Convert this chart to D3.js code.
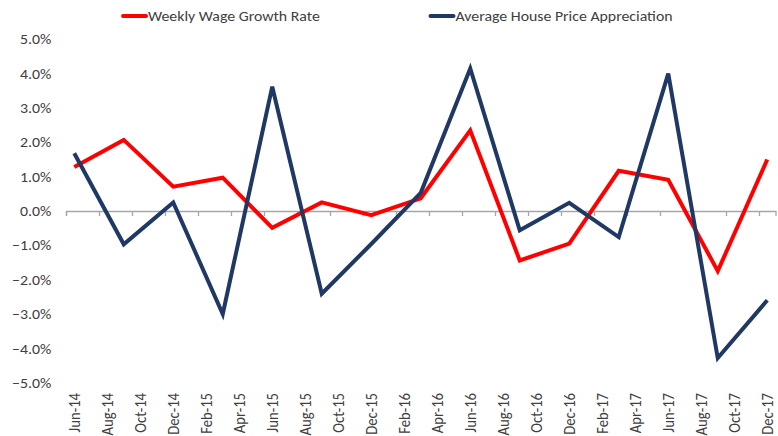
<!DOCTYPE html>
<html>
<head>
<meta charset="utf-8">
<script src="https://cdn.jsdelivr.net/npm/d3@7"></script>
<style>
  body { margin: 0; background: #fff; }
  text { font-family: Carlito, Calibri, "Liberation Sans", sans-serif; fill: #404040; }
</style>
</head>
<body>
<script>
// quarterly observations
var quarters = ["Jun-14", "Sep-14", "Dec-14", "Mar-15", "Jun-15", "Sep-15", "Dec-15", "Mar-16",
                "Jun-16", "Sep-16", "Dec-16", "Mar-17", "Jun-17", "Sep-17", "Dec-17"];
var wageGrowth = [1.28, 2.07, 0.71, 0.97, -0.49, 0.25, -0.12, 0.37, 2.35, -1.44, -0.95, 1.17, 0.91, -1.75, 1.50];
var housePrice = [1.68, -0.97, 0.25, -3.0, 3.62, -2.41, -0.96, 0.53, 4.15, -0.56, 0.24, -0.76, 4.0, -4.28, -2.6];

// axis labels, every second month
var tickLabels = ["Jun-14", "Aug-14", "Oct-14", "Dec-14", "Feb-15", "Apr-15", "Jun-15", "Aug-15",
                  "Oct-15", "Dec-15", "Feb-16", "Apr-16", "Jun-16", "Aug-16", "Oct-16", "Dec-16",
                  "Feb-17", "Apr-17", "Jun-17", "Aug-17", "Oct-17", "Dec-17"];
var yTicks = [5, 4, 3, 2, 1, 0, -1, -2, -3, -4, -5];

var seriesNames = ["Weekly Wage Growth Rate", "Average House Price Appreciation"];
var colors = ["#ff0000", "#1f3864"];

var width = 778, height = 436;
var fontSize = "14.67px";
var stretch = "scale(1.08,1)"; // the source image is a bit wider than tall
var parse = d3.timeParse("%b-%y");
var start = parse("Jun-14");
var monthIdx = function (s) { return d3.timeMonth.count(start, parse(s)); };

var x = d3.scaleLinear().domain([0, 43]).range([66, 775.5]);
var y = d3.scaleLinear().domain([-5, 5]).range([382.7, 39.3]);

var svg = d3.select("body").append("svg")
  .attr("width", width)
  .attr("height", height);

// y labels
svg.append("g").selectAll("text")
  .data(yTicks)
  .enter().append("text")
  .attr("transform", function (d) { return "translate(51.3," + y(d) + ") " + stretch; })
  .attr("dy", "0.35em")
  .attr("text-anchor", "end")
  .style("font-size", fontSize)
  .text(function (d) { return d3.format(".1f")(d) + "%"; });

// zero line with tick marks every 2 months
var tickMonths = tickLabels.map(monthIdx);
var xAxis = d3.axisBottom(x)
  .tickValues(tickMonths)
  .tickSize(5)
  .tickFormat("");
var axisG = svg.append("g")
  .attr("transform", "translate(0," + y(0) + ")")
  .call(xAxis);
axisG.select(".domain").attr("stroke", "#a6a6a6").attr("stroke-width", 1.3);
axisG.selectAll(".tick line").attr("stroke", "#a6a6a6").attr("stroke-width", 1.3);

// x labels at the bottom, rotated
svg.append("g").selectAll("text")
  .data(tickLabels)
  .enter().append("text")
  .attr("transform", function (d) {
    return "translate(" + x(monthIdx(d) + 0.5) + ",393) " + stretch + " rotate(-90)";
  })
  .attr("dy", "0.35em")
  .attr("text-anchor", "end")
  .style("font-size", fontSize)
  .text(function (d) { return d; });

// lines
var line = d3.line()
  .x(function (d, i) { return x(monthIdx(quarters[i]) + 0.5); })
  .y(function (d) { return y(d); });

[wageGrowth, housePrice].forEach(function (vals, k) {
  svg.append("path")
    .datum(vals)
    .attr("d", line)
    .attr("fill", "none")
    .attr("stroke", colors[k])
    .attr("stroke-width", 4)
    .attr("stroke-linejoin", "miter");
});

// legend
var legendX = [122, 429.5];
seriesNames.forEach(function (name, k) {
  var g = svg.append("g").attr("transform", "translate(" + legendX[k] + ",16)");
  g.append("line")
    .attr("x1", 1).attr("x2", 24)
    .attr("stroke", colors[k])
    .attr("stroke-width", 4)
    .attr("stroke-linecap", "round");
  g.append("text")
    .attr("transform", "translate(26,0) " + stretch)
    .attr("dy", "0.35em")
    .style("font-size", fontSize)
    .text(name);
});
</script>
</body>
</html>
